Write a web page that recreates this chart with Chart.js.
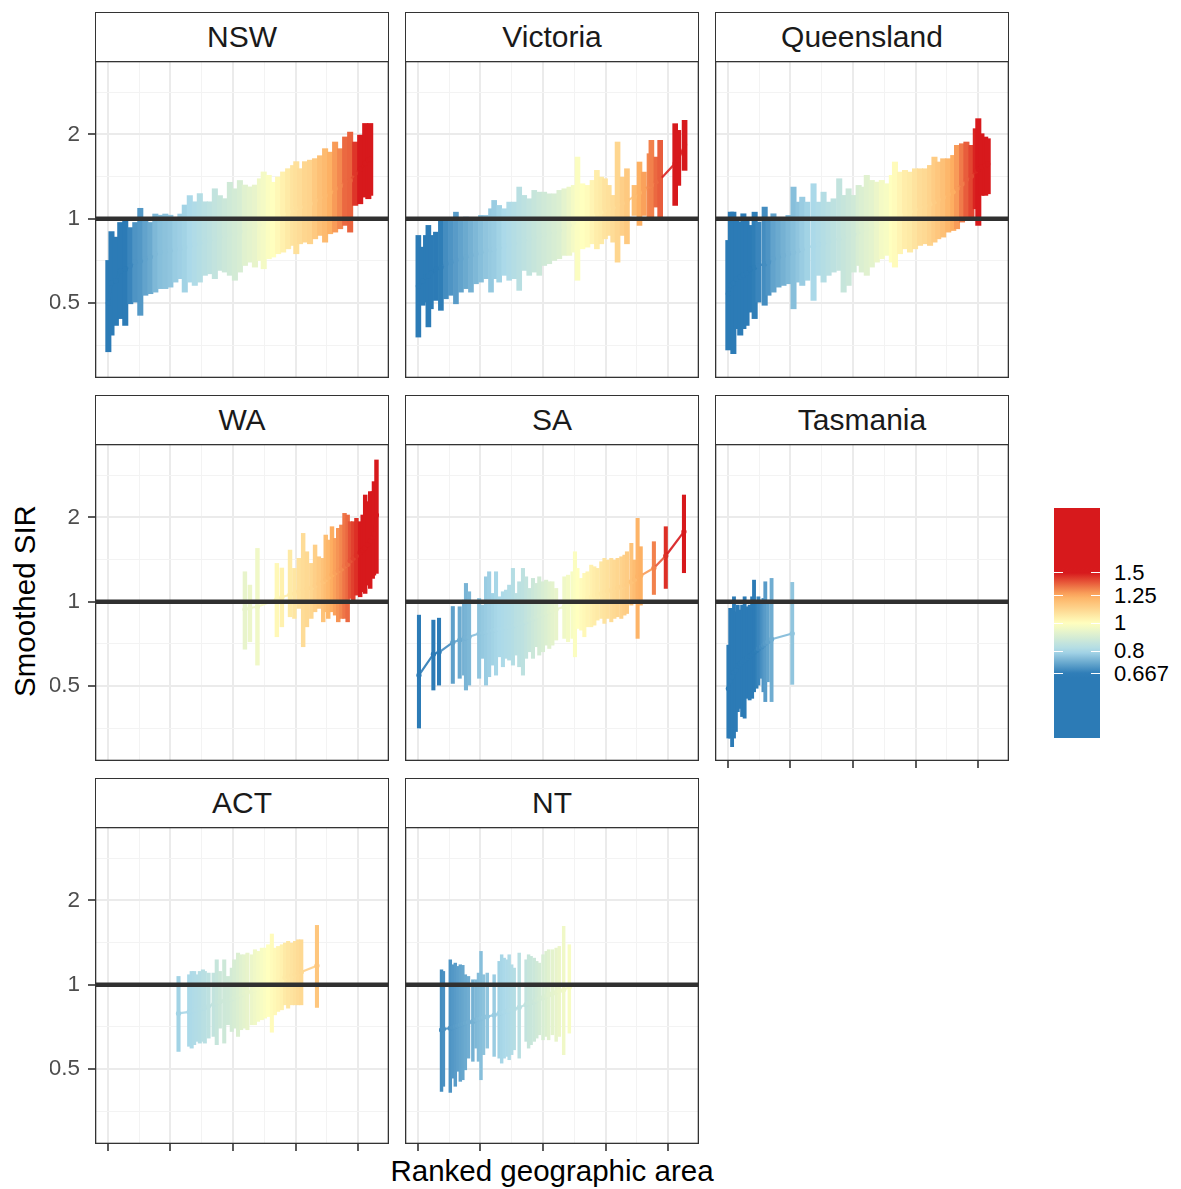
<!DOCTYPE html>
<html>
<head>
<meta charset="utf-8">
<script src="https://cdn.jsdelivr.net/npm/chart.js@4.4.1/dist/chart.umd.min.js"></script>
<style>
  html, body { margin:0; padding:0; background:#ffffff; }
  body { width:1181px; height:1189px; position:relative; overflow:hidden; font-family:"Liberation Sans", Arial, sans-serif; }
  .strip { position:absolute; box-sizing:border-box; border:1.3px solid #333333; background:#ffffff; display:flex; align-items:center; justify-content:center; font-size:30px; color:#1a1a1a; }
  canvas.panel { position:absolute; }
  .ytitle { position:absolute; left:25px; top:601px; transform:translate(-50%,-50%) rotate(-90deg); font-size:29.5px; white-space:nowrap; color:#000; }
  .xtitle { position:absolute; left:552px; top:1171px; transform:translate(-50%,-50%); font-size:29.5px; white-space:nowrap; color:#000; }
  .lgbar { position:absolute; left:1054px; top:508px; width:46px; height:230px; }
  .lgtick { position:absolute; height:1px; width:9px; background:#ffffff; }
  .lglab { position:absolute; left:1114px; font-size:22px; color:#000; transform:translateY(-50%); line-height:1; white-space:nowrap; }
</style>
</head>
<body>
<script>
// ---------------- DATA ----------------
const panelNames = ['NSW','Victoria','Queensland','WA','SA','Tasmania','ACT','NT'];
const yBreaks = [0.5, 1, 2];
const xBreaks = [0, 100, 200, 300, 400];
const legendBreaks = [0.667, 0.8, 1, 1.25, 1.5];
const legendLabels = ['0.667', '0.8', '1', '1.25', '1.5'];

const nswRank = [1,6,13,20,28,36,44,52,60,68,76,84,92,100,108,116,123,131,139,147,155,163,171,179,187,195,203,211,219,227,235,243,249,257,264,272,280,288,296,301,307,315,323,331,339,347,355,363,371,379,387,395,403,411,416,419];
const nswHi = [0.71,0.90,0.86,0.97,1.00,0.93,0.97,1.09,1.00,0.97,1.04,1.03,1.04,1.03,1.01,1.04,1.12,1.21,1.15,1.23,1.15,1.15,1.28,1.21,1.18,1.35,1.28,1.37,1.32,1.30,1.32,1.39,1.47,1.43,1.35,1.41,1.47,1.51,1.55,1.60,1.51,1.60,1.62,1.64,1.68,1.78,1.73,1.88,1.78,1.96,2.04,1.88,1.99,2.19,2.10,2.19];
const nswLo = [0.335,0.384,0.416,0.44,0.416,0.497,0.504,0.452,0.533,0.54,0.547,0.563,0.563,0.57,0.594,0.611,0.547,0.594,0.578,0.594,0.628,0.636,0.611,0.654,0.645,0.628,0.603,0.645,0.681,0.70,0.672,0.71,0.663,0.72,0.73,0.75,0.76,0.781,0.803,0.75,0.814,0.825,0.814,0.848,0.872,0.825,0.884,0.896,0.921,0.947,0.896,1.116,1.131,1.195,1.179,1.212];
const nswEst = [0.50,0.59,0.60,0.65,0.66,0.68,0.70,0.705,0.72,0.73,0.75,0.76,0.765,0.77,0.78,0.785,0.79,0.80,0.81,0.82,0.83,0.84,0.85,0.86,0.87,0.88,0.89,0.90,0.92,0.93,0.94,0.96,0.97,0.99,1.00,1.02,1.04,1.06,1.08,1.09,1.10,1.12,1.13,1.16,1.19,1.21,1.24,1.28,1.31,1.36,1.37,1.45,1.50,1.58,1.62,1.63];

const vicRank = [1,8,13,17,21,29,37,45,53,61,69,77,85,93,101,109,117,122,130,138,146,154,162,170,178,186,194,202,210,218,226,234,242,249,255,263,271,279,286,293,299,305,312,319,327,334,346,354,361,370,373,381,387,411,416,426];
const vicHi = [0.872,0.792,0.872,0.947,0.872,0.896,1.0,0.986,1.0,1.056,1.0,1.014,1.0,1.0,1.028,1.028,1.086,1.163,1.116,1.086,1.147,1.147,1.298,1.212,1.179,1.263,1.245,1.245,1.228,1.228,1.263,1.28,1.298,1.316,1.661,1.334,1.316,1.371,1.489,1.409,1.39,1.316,1.212,1.88,1.409,1.509,1.316,1.595,1.468,1.708,1.906,1.661,1.906,2.186,2.069,2.247];
const vicLo = [0.378,0.491,0.504,0.411,0.477,0.511,0.471,0.518,0.533,0.497,0.547,0.563,0.547,0.586,0.594,0.611,0.547,0.611,0.594,0.628,0.603,0.611,0.555,0.654,0.628,0.645,0.628,0.681,0.691,0.71,0.72,0.74,0.74,0.76,0.603,0.781,0.792,0.814,0.781,0.814,0.848,0.872,0.825,0.70,0.872,0.814,1.028,0.947,1.028,1.0,1.014,1.101,1.014,1.116,1.316,1.489];
const vicEst = [0.575,0.60,0.62,0.625,0.64,0.66,0.67,0.69,0.70,0.71,0.72,0.73,0.74,0.75,0.76,0.77,0.775,0.78,0.79,0.80,0.81,0.82,0.83,0.84,0.85,0.86,0.87,0.88,0.89,0.90,0.91,0.93,0.95,0.97,0.99,1.00,1.01,1.03,1.05,1.06,1.08,1.09,1.10,1.12,1.14,1.16,1.20,1.24,1.27,1.31,1.32,1.36,1.38,1.58,1.62,1.84];

const qldRank = [1,5,9,14,20,25,30,36,43,49,59,65,73,81,89,97,105,113,119,127,137,145,153,161,169,178,185,193,201,209,214,222,230,238,246,254,262,267,275,283,291,299,307,315,323,330,336,344,352,360,366,374,381,389,396,400,405,411,415];
const qldHi = [0.837,1.056,1.056,1.0,0.973,1.042,1.0,0.947,1.056,0.973,1.101,1.0,1.042,1.0,1.0,1.028,1.298,1.147,1.195,1.147,1.334,1.147,1.245,1.147,1.179,1.39,1.212,1.28,1.212,1.316,1.298,1.429,1.371,1.352,1.371,1.334,1.429,1.595,1.468,1.489,1.468,1.509,1.509,1.509,1.551,1.661,1.595,1.639,1.639,1.684,1.829,1.854,1.88,1.829,2.098,2.278,2.013,1.959,1.932];
const qldLo = [0.34,0.363,0.33,0.405,0.384,0.405,0.416,0.464,0.44,0.504,0.491,0.533,0.547,0.57,0.578,0.586,0.477,0.594,0.578,0.603,0.511,0.628,0.594,0.628,0.645,0.654,0.547,0.578,0.645,0.681,0.645,0.628,0.672,0.70,0.72,0.74,0.70,0.672,0.75,0.781,0.76,0.781,0.803,0.814,0.803,0.825,0.848,0.86,0.896,0.908,0.921,0.973,1.014,1.014,1.086,0.947,1.212,1.212,1.228];
const qldEst = [0.54,0.58,0.59,0.61,0.62,0.63,0.64,0.66,0.67,0.68,0.69,0.70,0.72,0.73,0.74,0.75,0.76,0.77,0.78,0.79,0.80,0.81,0.82,0.83,0.84,0.85,0.86,0.87,0.88,0.90,0.91,0.92,0.93,0.95,0.97,0.98,1.00,1.01,1.03,1.05,1.06,1.08,1.10,1.11,1.13,1.15,1.17,1.19,1.22,1.25,1.28,1.33,1.38,1.42,1.48,1.50,1.53,1.55,1.57];

const waRank = [219,227,239,270,278,291,298,305,312,318,325,331,337,344,348,352,358,363,368,373,378,383,387,392,397,403,407,411,415,419,423,425,429];
const waHi = [1.28,1.147,1.551,1.371,1.32,1.53,1.316,1.429,1.755,1.509,1.371,1.595,1.448,1.429,1.731,1.661,1.854,1.684,1.829,1.88,2.069,2.041,1.932,1.932,1.986,1.932,2.041,2.406,2.278,2.474,2.474,2.686,3.21];
const waLo = [0.677,0.72,0.594,0.75,0.814,0.884,0.872,0.947,0.691,0.814,0.872,0.921,0.947,0.848,0.921,0.872,0.921,0.896,0.848,0.872,0.872,0.848,1.028,1.0,1.056,1.042,1.086,1.071,1.147,1.116,1.212,1.245,1.263];
const waEst = [0.94,0.95,0.96,1.02,1.04,1.06,1.07,1.09,1.10,1.11,1.12,1.14,1.16,1.18,1.20,1.22,1.25,1.27,1.29,1.31,1.34,1.36,1.40,1.43,1.46,1.50,1.53,1.56,1.60,1.65,1.70,1.75,2.04];

const saRank = [2,25,34,56,67,74,77,82,98,104,109,114,120,125,130,136,141,146,152,157,162,168,173,178,184,189,194,200,205,210,215,221,234,240,247,251,255,261,266,271,277,282,287,293,298,303,309,314,319,325,330,334,341,346,351,356,377,396,425];
const saHi = [0.896,0.86,0.874,0.962,0.96,1.014,1.163,1.086,1.028,0.973,1.228,1.28,1.071,1.28,1.042,1.086,1.101,1.147,1.316,1.071,1.179,1.316,1.228,1.116,1.212,1.163,1.228,1.179,1.195,1.179,1.179,1.116,1.228,1.245,1.28,1.509,1.316,1.212,1.263,1.28,1.352,1.334,1.316,1.39,1.429,1.409,1.429,1.409,1.429,1.448,1.468,1.509,1.617,1.409,1.986,1.573,1.639,1.854,2.406];
const saLo = [0.354,0.484,0.504,0.511,0.533,0.547,0.484,0.504,0.533,0.628,0.504,0.54,0.594,0.547,0.636,0.586,0.628,0.619,0.594,0.645,0.586,0.547,0.628,0.663,0.628,0.691,0.645,0.663,0.70,0.681,0.70,0.73,0.74,0.72,0.74,0.636,0.803,0.792,0.75,0.814,0.814,0.825,0.86,0.872,0.837,0.872,0.848,0.872,0.884,0.872,0.896,0.908,0.973,0.986,0.74,0.973,1.062,1.116,1.27];
const saEst = [0.547,0.65,0.66,0.716,0.73,0.74,0.745,0.75,0.77,0.775,0.78,0.785,0.79,0.795,0.80,0.805,0.81,0.815,0.82,0.83,0.835,0.84,0.85,0.86,0.87,0.88,0.89,0.90,0.91,0.92,0.93,0.94,0.96,0.97,0.98,0.99,1.00,1.01,1.02,1.03,1.04,1.05,1.06,1.07,1.08,1.09,1.10,1.11,1.12,1.13,1.14,1.15,1.18,1.20,1.23,1.24,1.32,1.46,1.78];

const tasRank = [1,4,7,10,13,16,20,23,27,31,35,39,42,46,49,54,57,60,64,70,103];
const tasHi = [0.70,0.947,0.947,1.042,0.921,0.973,0.934,0.973,1.042,0.96,0.973,1.042,1.195,1.0,1.042,1.014,1.028,1.179,1.014,1.212,1.173];
const tasLo = [0.326,0.326,0.304,0.326,0.344,0.405,0.416,0.389,0.384,0.452,0.446,0.452,0.477,0.491,0.504,0.533,0.477,0.44,0.518,0.44,0.507];
const tasEst = [0.49,0.52,0.54,0.56,0.57,0.59,0.60,0.61,0.62,0.63,0.64,0.65,0.66,0.67,0.68,0.69,0.70,0.71,0.72,0.735,0.77];

const actRank = [113,130,134,138,142,147,152,155,161,169,174,179,186,192,198,202,208,213,218,223,230,235,240,246,251,256,262,267,272,278,283,288,294,299,304,309,334];
const actHi = [1.071,1.086,1.116,1.116,1.086,1.116,1.131,1.116,1.101,1.101,1.228,1.116,1.228,1.071,1.147,1.228,1.298,1.28,1.28,1.298,1.28,1.334,1.316,1.352,1.352,1.39,1.518,1.352,1.371,1.39,1.409,1.429,1.409,1.429,1.448,1.448,1.63];
const actLo = [0.578,0.603,0.594,0.611,0.628,0.619,0.628,0.619,0.645,0.654,0.611,0.70,0.619,0.72,0.681,0.70,0.654,0.691,0.70,0.691,0.72,0.72,0.74,0.75,0.76,0.77,0.677,0.781,0.803,0.814,0.848,0.825,0.848,0.848,0.848,0.848,0.83];
const actEst = [0.79,0.80,0.805,0.81,0.815,0.82,0.825,0.83,0.84,0.85,0.86,0.87,0.875,0.88,0.89,0.90,0.91,0.92,0.93,0.94,0.95,0.96,0.97,0.98,0.99,1.00,1.01,1.02,1.03,1.04,1.06,1.07,1.08,1.09,1.10,1.11,1.17];

const ntRank = [38,41,52,56,60,64,68,72,76,81,88,93,97,101,105,111,122,130,134,138,143,146,150,154,162,173,177,181,186,190,194,200,205,209,215,221,226,233,242];
const ntHi = [1.131,1.116,1.228,1.179,1.195,1.163,1.179,1.173,1.086,1.071,1.042,1.042,1.101,1.316,1.086,1.101,1.086,1.212,1.28,1.245,1.228,1.28,1.179,1.147,1.298,1.228,1.28,1.263,1.245,1.212,1.195,1.28,1.316,1.334,1.334,1.352,1.371,1.617,1.39];
const ntLo = [0.416,0.434,0.413,0.464,0.434,0.491,0.452,0.458,0.497,0.547,0.533,0.594,0.533,0.458,0.563,0.594,0.555,0.547,0.525,0.547,0.555,0.54,0.563,0.586,0.547,0.628,0.594,0.611,0.628,0.645,0.663,0.636,0.654,0.636,0.663,0.628,0.654,0.563,0.672];
const ntEst = [0.69,0.695,0.70,0.705,0.71,0.715,0.72,0.725,0.73,0.735,0.74,0.75,0.755,0.76,0.765,0.77,0.78,0.79,0.795,0.80,0.805,0.81,0.815,0.82,0.83,0.85,0.86,0.865,0.87,0.88,0.89,0.90,0.91,0.92,0.93,0.94,0.95,0.96,0.98];

// ---------------- LAYOUT / STYLE ----------------
const FONT = '"Liberation Sans", Arial, sans-serif';
Chart.defaults.font.family = FONT;
const colLeft = [95, 405, 715];
const rowTop = [61, 444, 827];
const panelW = 294, panelH = 317, stripH = 49;
const xMin = -20.3, xMax = 449, yMin = 0.27, yMax = 3.66;
const xGrid = [0, 50, 100, 150, 200, 250, 300, 350, 400];
const yGrid = [0.3536, 0.5, 0.7071, 1, 1.4142, 2, 2.8284];

const colourVals = [2/3, 0.8, 1, 1.25, 1.5];
const colourRGB = [[44,123,182],[171,217,233],[255,255,191],[253,174,97],[215,25,28]];
function colourFor(v, a) {
  const alpha = (a === undefined) ? 1 : a;
  const l = Math.log(v);
  const ls = colourVals.map(Math.log);
  let c;
  if (l <= ls[0]) c = colourRGB[0];
  else if (l >= ls[ls.length - 1]) c = colourRGB[ls.length - 1];
  else {
    let i = 0;
    while (l > ls[i + 1]) i++;
    const t = (l - ls[i]) / (ls[i + 1] - ls[i]);
    c = colourRGB[i].map((ch, k) => Math.round(ch + (colourRGB[i + 1][k] - ch) * t));
  }
  return `rgba(${c[0]},${c[1]},${c[2]},${alpha})`;
}

const panelData = {
  'NSW': [nswRank, nswEst, nswLo, nswHi],
  'Victoria': [vicRank, vicEst, vicLo, vicHi],
  'Queensland': [qldRank, qldEst, qldLo, qldHi],
  'WA': [waRank, waEst, waLo, waHi],
  'SA': [saRank, saEst, saLo, saHi],
  'Tasmania': [tasRank, tasEst, tasLo, tasHi],
  'ACT': [actRank, actEst, actLo, actHi],
  'NT': [ntRank, ntEst, ntLo, ntHi]
};
const barWidths = { 'NSW':5.4, 'Victoria':5.0, 'Queensland':5.4, 'WA':3.8, 'SA':3.4, 'Tasmania':3.2, 'ACT':3.4, 'NT':2.8 };

const borderPlugin = {
  id: 'panelBorder',
  afterDraw(chart) {
    const { ctx, chartArea: a } = chart;
    ctx.save();
    ctx.strokeStyle = '#333333';
    ctx.lineWidth = 1.3;
    ctx.strokeRect(a.left + 0.65, a.top + 0.65, a.right - a.left - 1.3, a.bottom - a.top - 1.3);
    ctx.restore();
  }
};

panelNames.forEach((name, idx) => {
  const col = idx % 3, row = Math.floor(idx / 3);
  const hasY = col === 0;
  const hasX = row === 2 || (row === 1 && col === 2);
  const yAxisW = hasY ? 45 : 0;
  const xAxisH = hasX ? 10 : 0;
  const [rank, est, lo, hi] = panelData[name];

  const strip = document.createElement('div');
  strip.className = 'strip';
  strip.style.left = colLeft[col] + 'px';
  strip.style.top = (rowTop[row] - stripH) + 'px';
  strip.style.width = panelW + 'px';
  strip.style.height = (stripH + 1) + 'px';
  strip.textContent = name;
  document.body.appendChild(strip);

  const cv = document.createElement('canvas');
  cv.className = 'panel';
  const W = panelW + yAxisW, H = panelH + xAxisH;
  cv.width = W; cv.height = H;
  cv.style.width = W + 'px'; cv.style.height = H + 'px';
  cv.style.left = (colLeft[col] - yAxisW) + 'px';
  cv.style.top = rowTop[row] + 'px';
  document.body.appendChild(cv);

  const isMajorX = v => xBreaks.includes(v);
  const isMajorY = v => yBreaks.includes(v);

  new Chart(cv, {
    type: 'bar',
    data: {
      datasets: [
        {
          type: 'line',
          data: [{ x: xMin - 10, y: 1 }, { x: xMax + 10, y: 1 }],
          borderColor: '#303030', borderWidth: 4.5, pointRadius: 0, order: 0, clip: 0
        },
        {
          type: 'line',
          data: rank.map((x, i) => ({ x: x, y: est[i] })),
          borderWidth: 2.2, tension: 0, order: 1,
          borderColor: colourFor(1, 0.9),
          segment: { borderColor: c => colourFor((est[c.p0DataIndex] + est[c.p1DataIndex]) / 2, 0.9) },
          pointRadius: 2.6, pointBorderWidth: 0,
          pointBackgroundColor: est.map(v => colourFor(v))
        },
        {
          type: 'bar',
          data: rank.map((x, i) => ({ x: x, y: [lo[i], hi[i]] })),
          backgroundColor: est.map(v => colourFor(v)),
          borderWidth: 0, barThickness: barWidths[name], order: 2
        }
      ]
    },
    options: {
      responsive: false, animation: false, devicePixelRatio: 1, events: [],
      layout: { padding: 0, autoPadding: false },
      plugins: { legend: { display: false }, tooltip: { enabled: false }, title: { display: false } },
      scales: {
        x: {
          type: 'linear', min: xMin, max: xMax, offset: false, bounds: 'data',
          afterBuildTicks: s => { s.ticks = xGrid.map(v => ({ value: v })); },
          afterFit: s => { s.height = xAxisH; s.paddingLeft = 0; s.paddingRight = 0; s.paddingTop = 0; s.paddingBottom = 0; },
          ticks: { display: false, autoSkip: false },
          border: { display: false },
          grid: {
            offset: false,
            color: c => (c.tick && isMajorX(c.tick.value)) ? '#ebebeb' : '#f3f3f3',
            lineWidth: c => (c.tick && isMajorX(c.tick.value)) ? 2 : 1,
            drawTicks: hasX, tickLength: 7, tickWidth: 1.6,
            tickColor: c => (c.tick && isMajorX(c.tick.value)) ? '#333333' : 'rgba(0,0,0,0)'
          }
        },
        y: {
          type: 'logarithmic', min: yMin, max: yMax, bounds: 'data',
          afterBuildTicks: s => { s.ticks = yGrid.map(v => ({ value: v })); },
          afterFit: s => { s.width = yAxisW; s.paddingLeft = 0; s.paddingRight = 0; s.paddingTop = 0; s.paddingBottom = 0; },
          ticks: {
            display: hasY, autoSkip: false, padding: 8, color: '#4d4d4d',
            font: { family: FONT, size: 22.5 },
            callback: v => isMajorY(v) ? String(v) : ''
          },
          border: { display: false },
          grid: {
            offset: false,
            color: c => (c.tick && isMajorY(c.tick.value)) ? '#ebebeb' : '#f3f3f3',
            lineWidth: c => (c.tick && isMajorY(c.tick.value)) ? 2 : 1,
            drawTicks: hasY, tickLength: 7, tickWidth: 1.6,
            tickColor: c => (c.tick && isMajorY(c.tick.value)) ? '#333333' : 'rgba(0,0,0,0)'
          }
        }
      }
    },
    plugins: [borderPlugin]
  });
});

// axis titles
const yt = document.createElement('div'); yt.className = 'ytitle'; yt.textContent = 'Smoothed SIR'; document.body.appendChild(yt);
const xt = document.createElement('div'); xt.className = 'xtitle'; xt.textContent = 'Ranked geographic area'; document.body.appendChild(xt);

// colour bar legend
const lgTop = 508, lgH = 230, lgCentre = 623.3, lgPerLn = 124.5;
const bar = document.createElement('div'); bar.className = 'lgbar';
const stops = [];
for (let i = 0; i <= 46; i++) {
  const y = lgTop + i * 5;
  const v = Math.exp((lgCentre - y) / lgPerLn);
  stops.push(colourFor(v) + ' ' + (i * 5 / lgH * 100).toFixed(2) + '%');
}
bar.style.background = 'linear-gradient(to bottom, ' + stops.join(', ') + ')';
document.body.appendChild(bar);
legendBreaks.forEach((b, i) => {
  const y = lgCentre - lgPerLn * Math.log(b);
  [1054, 1091].forEach(x => {
    const t = document.createElement('div'); t.className = 'lgtick';
    t.style.left = x + 'px'; t.style.top = (y - 0.5) + 'px';
    document.body.appendChild(t);
  });
  const lab = document.createElement('div'); lab.className = 'lglab';
  lab.style.top = y + 'px'; lab.textContent = legendLabels[i];
  document.body.appendChild(lab);
});
</script>
</body>
</html>
